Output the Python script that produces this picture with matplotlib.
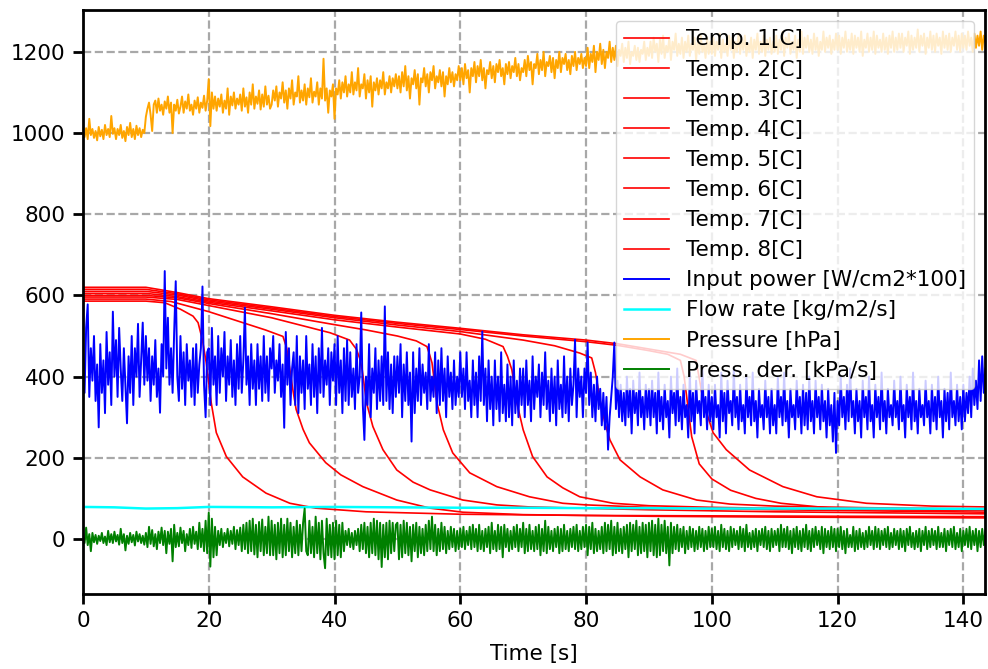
import numpy as np
import matplotlib
matplotlib.use("Agg")
import matplotlib.pyplot as plt

# ---------------- data ----------------
dt = 0.25  # sampling step of the noisy channels [s]

input_power = [
    450, 360, 520, 578, 350, 470, 390, 500, 340, 430, 275, 480, 360, 440, 310, 510, 380, 460, 330, 560,
    400, 490, 350, 520, 420, 340, 470, 380, 285, 450, 360, 500, 330, 470, 400, 530, 350, 440, 533, 380,
    500, 390, 470, 340, 450, 380, 490, 350, 420, 311, 480, 400, 660, 420, 545, 380, 470, 360, 510, 635,
    400, 340, 500, 370, 460, 330, 480, 390, 440, 350, 470, 330, 480, 360, 430, 470, 622, 380, 300, 460,
    470, 330, 520, 380, 450, 330, 500, 360, 470, 400, 510, 340, 450, 380, 490, 350, 440, 330, 480, 370,
    500, 360, 440, 570, 380, 450, 330, 480, 370, 440, 330, 480, 370, 450, 340, 500, 360, 450, 340, 470,
    420, 500, 360, 440, 390, 480, 350, 430, 274, 510, 380, 470, 330, 420, 460, 330, 500, 310, 450, 360,
    440, 320, 500, 370, 430, 330, 480, 350, 450, 310, 470, 360, 520, 350, 440, 380, 470, 330, 460, 390,
    480, 330, 500, 360, 440, 310, 470, 340, 490, 330, 460, 350, 420, 320, 480, 360, 400, 558, 330, 244,
    400, 330, 480, 300, 420, 360, 470, 320, 440, 340, 450, 330, 573, 340, 460, 320, 430, 310, 450, 350,
    450, 360, 480, 300, 430, 340, 460, 330, 410, 240, 460, 310, 420, 340, 470, 330, 430, 360, 410, 320,
    480, 340, 400, 350, 460, 310, 440, 330, 470, 340, 420, 300, 450, 350, 410, 320, 440, 330, 400, 350,
    460, 350, 420, 320, 460, 340, 390, 300, 440, 330, 410, 300, 450, 340, 511, 330, 420, 290, 440, 320,
    400, 280, 440, 320, 400, 290, 460, 310, 380, 290, 430, 300, 400, 280, 440, 310, 390, 300, 420, 330,
    420, 300, 440, 330, 390, 290, 450, 320, 400, 350, 430, 300, 410, 330, 460, 320, 390, 290, 420, 310,
    400, 280, 440, 320, 380, 300, 450, 310, 400, 290, 420, 330, 380, 491, 300, 420, 350, 400, 300, 420,
    360, 484, 330, 410, 300, 380, 290, 400, 320, 370, 280, 360, 270, 350, 220, 300, 350, 400, 484, 320,
    390, 300, 380, 290, 360, 280, 400, 300, 370, 260, 390, 310, 360, 280, 410, 300, 350, 270, 380, 300,
    370, 280, 390, 300, 360, 260, 410, 290, 350, 270, 380, 300, 340, 250, 400, 310, 360, 280, 420, 290,
    350, 270, 380, 300, 330, 250, 410, 290, 360, 260, 390, 310, 340, 280, 420, 300, 350, 270, 380, 290,
    350, 270, 380, 300, 330, 250, 410, 290, 360, 260, 390, 310, 340, 280, 420, 300, 350, 270, 380, 290,
    330, 260, 400, 300, 350, 280, 410, 290, 340, 250, 370, 300, 330, 270, 390, 300, 350, 260, 370, 280,
    330, 260, 400, 300, 350, 280, 410, 290, 340, 250, 370, 300, 330, 270, 390, 300, 350, 260, 380, 280,
    360, 270, 400, 290, 340, 260, 390, 300, 350, 270, 380, 290, 340, 250, 370, 280, 330, 240, 360, 212,
    340, 280, 400, 300, 350, 270, 380, 290, 420, 300, 340, 260, 370, 290, 340, 250, 390, 300, 350, 270,
    400, 290, 330, 250, 380, 300, 350, 270, 410, 290, 340, 260, 370, 300, 330, 280, 390, 300, 340, 270,
    400, 290, 330, 250, 380, 300, 350, 270, 410, 290, 340, 260, 370, 300, 330, 280, 390, 300, 340, 260,
    380, 290, 350, 270, 400, 300, 340, 250, 370, 290, 360, 270, 410, 300, 340, 280, 380, 290, 350, 270,
    380, 290, 360, 310, 400, 300, 420, 330, 390, 320, 440, 340, 450, 360, 420,
]

pressure = [
    1000, 990, 1012, 985, 1035, 995, 1010, 988, 1005, 982, 1015, 992, 1008, 985, 1020, 995, 1010, 990, 1042, 998,
    1012, 985, 1010, 995, 1020, 988, 1005, 980, 1015, 995, 1025, 990, 1010, 985, 1018, 995, 1012, 990, 1008, 1000,
    1040, 1060, 1075, 1045, 1005, 1070, 1080, 1050, 1085, 1055, 1070, 1045, 1078, 1060, 1090, 1050, 1075, 1000, 1070, 1055,
    1082, 1048, 1065, 1090, 1050, 1078, 1060, 1095, 1055, 1070, 1045, 1080, 1060, 1088, 1050, 1075, 1062, 1092, 1055, 1080,
    1133, 1017, 1100, 1060, 1090, 1055, 1085, 1065, 1095, 1050, 1080, 1060, 1110, 1045, 1090, 1068, 1100, 1060, 1085, 1070,
    1095, 1055, 1110, 1065, 1088, 1050, 1100, 1070, 1120, 1060, 1090, 1072, 1105, 1058, 1095, 1065, 1115, 1070, 1092, 1060,
    1070, 1105, 1080, 1115, 1065, 1100, 1085, 1125, 1075, 1105, 1060, 1110, 1085, 1130, 1070, 1100, 1090, 1140, 1075, 1105,
    1080, 1120, 1070, 1110, 1088, 1135, 1075, 1102, 1090, 1125, 1070, 1110, 1085, 1183, 1080, 1110, 1050, 1105, 1090, 1120,
    1035, 1110, 1095, 1130, 1085, 1125, 1100, 1140, 1090, 1120, 1100, 1150, 1095, 1125, 1105, 1160, 1090, 1120, 1110, 1145,
    1085, 1130, 1100, 1140, 1065, 1125, 1105, 1135, 1095, 1130, 1110, 1150, 1095, 1125, 1110, 1140, 1100, 1135, 1115, 1145,
    1110, 1140, 1100, 1150, 1115, 1165, 1105, 1140, 1085, 1135, 1120, 1155, 1110, 1145, 1070, 1135, 1125, 1160, 1115, 1145,
    1100, 1150, 1130, 1165, 1110, 1140, 1125, 1155, 1115, 1150, 1090, 1140, 1120, 1160, 1125, 1150, 1115, 1145, 1130, 1165,
    1130, 1160, 1120, 1170, 1135, 1155, 1100, 1160, 1140, 1175, 1125, 1165, 1140, 1180, 1130, 1160, 1110, 1155, 1145, 1175,
    1135, 1165, 1125, 1170, 1150, 1180, 1140, 1160, 1120, 1170, 1145, 1175, 1135, 1165, 1150, 1185, 1140, 1170, 1130, 1160,
    1150, 1180, 1140, 1190, 1155, 1175, 1120, 1170, 1160, 1195, 1145, 1180, 1155, 1200, 1140, 1175, 1165, 1190, 1150, 1185,
    1135, 1180, 1160, 1200, 1150, 1185, 1170, 1195, 1155, 1180, 1145, 1190, 1165, 1200, 1155, 1185, 1170, 1195, 1160, 1185,
    1165, 1210, 1160, 1195, 1175, 1215, 1150, 1200, 1180, 1220, 1170, 1205, 1160, 1200, 1185, 1225, 1175, 1210, 1180, 1215,
    1165, 1205, 1190, 1220, 1175, 1210, 1185, 1225, 1170, 1200, 1190, 1215, 1180, 1210, 1175, 1205, 1195, 1225, 1180, 1210,
    1190, 1225, 1185, 1235, 1200, 1220, 1175, 1230, 1195, 1240, 1185, 1215, 1200, 1235, 1180, 1225, 1205, 1245, 1190, 1220,
    1195, 1235, 1185, 1225, 1200, 1240, 1190, 1220, 1205, 1235, 1180, 1225, 1195, 1240, 1200, 1220, 1185, 1235, 1195, 1225,
    1195, 1235, 1190, 1225, 1205, 1245, 1185, 1230, 1200, 1220, 1190, 1240, 1205, 1235, 1185, 1225, 1200, 1245, 1195, 1230,
    1205, 1240, 1190, 1220, 1200, 1235, 1185, 1230, 1205, 1245, 1195, 1225, 1200, 1240, 1190, 1230, 1205, 1235, 1195, 1225,
    1200, 1240, 1195, 1230, 1205, 1250, 1190, 1235, 1210, 1245, 1195, 1225, 1205, 1240, 1185, 1230, 1200, 1250, 1195, 1235,
    1210, 1240, 1200, 1230, 1195, 1245, 1205, 1235, 1190, 1225, 1205, 1250, 1200, 1235, 1210, 1240, 1195, 1230, 1205, 1245,
    1205, 1240, 1195, 1235, 1210, 1250, 1200, 1230, 1205, 1245, 1195, 1240, 1210, 1235, 1200, 1250, 1190, 1230, 1210, 1245,
    1200, 1235, 1205, 1250, 1195, 1240, 1210, 1230, 1200, 1245, 1205, 1235, 1195, 1240, 1210, 1250, 1200, 1235, 1205, 1245,
    1210, 1245, 1200, 1235, 1215, 1250, 1195, 1240, 1205, 1235, 1210, 1255, 1200, 1240, 1215, 1245, 1195, 1235, 1210, 1250,
    1205, 1240, 1200, 1245, 1215, 1235, 1195, 1250, 1210, 1240, 1205, 1245, 1200, 1235, 1215, 1250, 1205, 1240, 1200, 1245,
    1210, 1240, 1205, 1250, 1215, 1235, 1200, 1245, 1210, 1240, 1215, 1250, 1205, 1240, 1225,
]

press_der = [
    5, -10, 28, -15, 12, -30, 15, -8, 10, -12, 8, -5, 15, -10, 6, -15, 20, -8, 12, -10,
    18, -6, 10, -14, 25, -10, 12, -28, 8, -12, 15, -8, 10, -16, 18, -6, 12, -10, 8, -14,
    15, -20, 30, -12, 22, -18, 12, -25, 18, -10, 28, -15, 20, -35, 18, -12, 25, -55, 35, -20,
    15, -18, 28, -10, 20, -30, 12, -15, 25, -22, 30, -12, 18, -25, 40, -20, 25, -30, 45, -35,
    65, -68, 50, -45, 30, -40, 20, -15, 25, -20, 15, -10, 25, -18, 20, -12, 30, -25, 22, -15,
    28, -30, 35, -25, 40, -35, 45, -30, 50, -38, 35, -45, 42, -30, 48, -40, 30, -35, 55, -40,
    45, -40, 35, -50, 40, -35, 50, -45, 35, -40, 50, -30, 40, -45, 30, -35, 45, -40, 35, -30,
    40, 75, -30, -40, 45, -35, 30, -45, 55, -35, 40, -50, 45, -35, -72, 50, -40, 35, -45, 40,
    -50, 45, -40, 35, -45, 40, -30, 20, -15, 25, -20, 15, -25, 20, -15, 25, -30, 35, -25, 40,
    -35, 30, -45, 40, -35, 50, -40, 45, -50, 40, -69, 35, -45, 40, -50, 45, -35, 40, -30, 35,
    40, -50, 35, -45, 45, -35, 40, -40, 30, -55, 35, -30, 40, -45, 30, -35, 25, -40, 35, -30,
    45, -25, 55, -30, 35, -40, 25, -30, 40, -25, 30, -35, 20, -25, 30, -20, 25, -30, 20, -25,
    25, -20, 30, -25, 20, -15, 30, -25, 35, -20, 25, -30, 35, -25, 20, -30, 25, -20, 30, -35,
    40, -25, 20, -30, 35, -25, 30, -45, 35, -20, 25, -30, 20, -25, 30, -20, 35, -30, 25, -20,
    40, -35, 25, -30, 35, -25, 20, -30, 30, -25, 35, -40, 25, -30, 45, -35, 30, -25, 20, -30,
    25, -20, 30, -35, 25, -30, 35, -25, 20, -30, 25, -20, 30, -25, 35, -30, 20, -25, 30, -20,
    35, -40, 30, -25, 40, -35, 25, -30, 20, -25, 30, -35, 40, -30, 35, -25, 45, -40, 30, -35,
    40, -30, 25, -35, 30, -25, 35, -45, 40, -30, 35, -25, 45, -40, 30, -35, 40, -30, 35, -45,
    40, -30, 45, -40, 35, -45, 50, -40, 35, -30, 45, -35, 30, -65, 40, -35, 30, -25, 35, -30,
    25, -20, 30, -35, 20, -25, 30, -20, 25, -30, 20, -25, 30, -20, 25, -30, 20, -25, 30, -20,
    25, -20, 30, -25, 20, -30, 35, -20, 25, -25, 20, -30, 30, -20, 25, -15, 20, -25, 30, -20,
    25, -30, 35, -20, 15, -25, 20, -20, 25, -30, 20, -15, 25, -20, 30, -25, 20, -30, 25, -20,
    20, -15, 25, -30, 35, -20, 25, -20, 30, -25, 20, -35, 25, -20, 30, -25, 20, -30, 25, -20,
    35, -25, 20, -30, 25, -20, 30, -15, 20, -25, 30, -35, 25, -20, 20, -25, 30, -20, 25, -30,
    25, -20, 30, -25, 20, -35, 25, -20, 10, -20, 30, -30, 20, -25, 25, -20, 15, -25, 20, -20,
    30, -15, 20, -25, 30, -20, 25, -25, 20, -15, 25, -20, 30, -25, 15, -20, 25, -15, 20, -25,
    25, -20, 20, -30, 25, -15, 30, -20, 15, -25, 20, -20, 25, -30, 20, -15, 30, -25, 20, -20,
    25, -15, 20, -25, 30, -20, 15, -20, 25, -30, 20, -15, 25, -20, 30, -25, 15, -20, 25, -30,
    20, -15, 25, -20, 30, -25, 20, -15, 25, -30, 20, -20, 25, -15, 20,
]

flow_t = [0, 5, 10, 15, 20, 30, 40, 50, 60, 70, 80, 90, 100, 110, 120, 130, 143.5]
flow_rate = [79, 78, 75, 76, 79, 78, 79, 78, 77, 77, 76, 76, 75, 75, 75, 75, 74]

temp1_t = [0, 10, 13, 15.5, 17.5, 18.3, 19.0, 19.6, 20.4, 21.2, 22.8, 25.4, 29.1, 32.9, 37, 45, 60, 80, 100, 120, 143.5]
temp1 = [586, 586, 582, 566, 549, 533, 490, 434, 335, 262, 203, 153, 113, 88, 76, 67, 61, 58, 57, 56, 55]

temp2_t = [0, 10, 14, 20, 25, 29, 31.8, 32.4, 32.9, 33.4, 33.9, 35, 36, 38.6, 41, 44.5, 49.9, 55.2, 60.4, 70, 90, 110, 143.5]
temp2 = [591, 591, 585, 560, 535, 515, 499, 470, 417, 365, 319, 270, 237, 188, 158, 129, 96, 76, 66, 60, 56, 54, 52]

temp3_t = [0, 10, 15, 20, 30, 39.3, 42.4, 43.5, 44.0, 44.4, 45.1, 46.1, 47.7, 49.9, 52.5, 55.2, 60.4, 65.8, 71, 90, 110, 143.5]
temp3 = [596, 596, 590, 575, 545, 508, 490, 467, 445, 417, 335, 277, 220, 170, 140, 121, 96, 84, 79, 72, 67, 62]

temp4_t = [0, 10, 15, 20, 30, 40, 45, 50, 53, 54.7, 55.1, 55.5, 56.3, 57.3, 58.8, 61.5, 65.8, 71, 76.3, 80, 90, 110, 143.5]
temp4 = [600, 600, 594, 580, 555, 528, 515, 500, 488, 474, 455, 434, 335, 269, 212, 163, 129, 104, 88, 84, 78, 72, 66]

temp5_t = [0, 10, 15, 20, 30, 40, 50, 60, 64, 66.8, 67.5, 68.2, 69, 70, 71.5, 73.8, 76.3, 79, 84.3, 90, 100, 120, 143.5]
temp5 = [605, 605, 597, 583, 562, 540, 522, 505, 492, 474, 450, 417, 335, 269, 203, 153, 126, 104, 88, 82, 78, 73, 70]

temp6_t = [0, 10, 15, 20, 30, 40, 50, 60, 70, 75, 79, 80.9, 81.5, 82.2, 83, 83.8, 85.4, 88.6, 92.2, 97.6, 102.9, 110, 125, 143.5]
temp6 = [610, 610, 601, 586, 566, 545, 527, 511, 490, 476, 458, 446, 410, 343, 286, 244, 195, 153, 121, 96, 86, 81, 77, 74]

temp7_t = [0, 10, 15, 20, 30, 40, 50, 60, 70, 80, 85, 90, 93, 95, 95.6, 96.2, 96.8, 98, 100, 103, 107, 111, 119, 130, 143.5]
temp7 = [615, 615, 604, 589, 569, 548, 531, 516, 500, 486, 477, 464, 455, 440, 400, 326, 252, 185, 148, 120, 100, 88, 76, 72, 71]

temp8_t = [0, 10, 15, 20, 30, 40, 50, 60, 70, 80, 85, 90, 95, 97.5, 98.6, 99.4, 100.2, 102.3, 106, 111.3, 116.7, 124.6, 135, 143.5]
temp8 = [620, 620, 607, 592, 572, 551, 534, 519, 503, 490, 481, 468, 455, 440, 343, 300, 262, 220, 170, 129, 104, 88, 81, 79]

temps = [(temp1_t, temp1), (temp2_t, temp2), (temp3_t, temp3), (temp4_t, temp4),
         (temp5_t, temp5), (temp6_t, temp6), (temp7_t, temp7), (temp8_t, temp8)]

x_ticks = [0, 20, 40, 60, 80, 100, 120, 140]
y_ticks = [0, 200, 400, 600, 800, 1000, 1200]

# ---------------- plot ----------------
def times(series):
    return np.arange(len(series)) * dt

FS = 15.5
fig = plt.figure(figsize=(9.88, 6.69), dpi=100)
ax = fig.add_axes([0.0840, 0.1121, 0.9130, 0.8729])

for i, (tt, vv) in enumerate(temps):
    ax.plot(tt, vv, color="red", lw=1.2, label=f"Temp. {i + 1}[C]")
ax.plot(times(input_power), input_power, color="blue", lw=1.4, label="Input power [W/cm2*100]")
ax.plot(flow_t, flow_rate, color="cyan", lw=1.8, label="Flow rate [kg/m2/s]")
ax.plot(times(pressure), pressure, color="orange", lw=1.4, label="Pressure [hPa]")
ax.plot(times(press_der), press_der, color="green", lw=1.4, label="Press. der. [kPa/s]")

ax.set_xlim(0, 143.45)
ax.set_ylim(-135.5, 1303)
ax.set_xticks(x_ticks)
ax.set_yticks(y_ticks)
ax.grid(True, color="#a8a8a8", linestyle="--", linewidth=1.6)
ax.set_axisbelow(True)
for s in ax.spines.values():
    s.set_linewidth(2.0)
ax.tick_params(axis="both", which="major", length=7, width=2.0, labelsize=FS, pad=5.5)
ax.set_xlabel("Time [s]", fontsize=FS, labelpad=9)

leg = ax.legend(loc="upper right", fontsize=FS, handlelength=2.1, handletextpad=0.75,
                labelspacing=0.47, framealpha=0.8, borderpad=0.4)

fig.savefig("out.png", dpi=100)
